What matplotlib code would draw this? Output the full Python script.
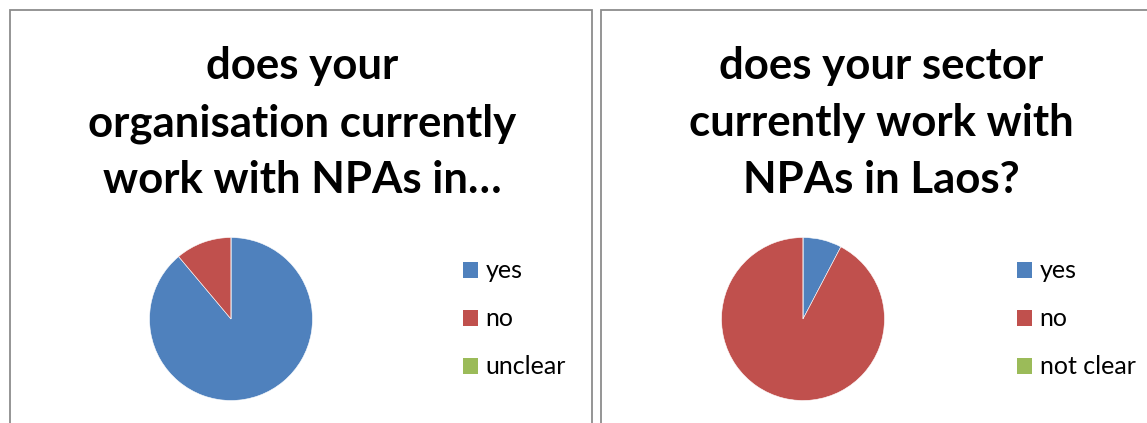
# -*- coding: utf-8 -*-
"""
Two survey pie charts: NPAs in Laos
"""
import matplotlib
matplotlib.use('Agg')
import matplotlib.pyplot as plt
from matplotlib.patches import Rectangle

###############################################################################
# data:
org_labels = ['yes', 'no', 'unclear']
org_counts = [8, 1, 0]
org_title = ['does your', 'organisation currently', 'work with NPAs in\u2026']

sector_labels = ['yes', 'no', 'not clear']
sector_counts = [1, 12, 0]
sector_title = ['does your sector', 'currently work with', 'NPAs in Laos?']

colors = ['#4F81BD', '#C0504D', '#9BBB59']

###############################################################################
# setup:
W, H = 1147, 423
dpi = 100
plt.rcParams['font.family'] = ['Lato', 'DejaVu Sans']

fig = plt.figure(figsize=(W / dpi, H / dpi), dpi=dpi)
fig.patch.set_facecolor('white')


def fx(px):
    return px / W


def fy(py):
    return 1 - py / H


# panel borders (pixel coords from top-left)
panels = [(10, 10, 592, 440), (601, 10, 1165, 440)]
for x0, y0, x1, y1 in panels:
    fig.add_artist(Rectangle((fx(x0), fy(y1)), fx(x1) - fx(x0), fy(y0) - fy(y1),
                             transform=fig.transFigure, fill=False,
                             edgecolor='#8c8c8c', linewidth=1.3))

title_cx = [302, 881]
title_baselines = [79, 136, 193]
pie_centers = [(231, 319), (803, 319)]
pie_r = 81.5
legend_x = [463, 1017]

for i, (labels, counts, title) in enumerate([(org_labels, org_counts, org_title),
                                              (sector_labels, sector_counts, sector_title)]):
    # title
    for line, yb in zip(title, title_baselines):
        fig.text(fx(title_cx[i]), fy(yb), line, ha='center', va='baseline',
                 fontsize=31.5, fontweight='bold', color='black')

    # pie
    cx, cy = pie_centers[i]
    ax = fig.add_axes([fx(cx - pie_r), fy(cy + pie_r), 2 * pie_r / W, 2 * pie_r / H])
    wedges, _ = ax.pie(counts, colors=colors, startangle=90, counterclock=False,
                       wedgeprops=dict(edgecolor='white', linewidth=0.4))
    ax.set_xlim(-1, 1)
    ax.set_ylim(-1, 1)
    ax.set_aspect('equal')

    # legend
    leg = ax.legend(wedges, labels, loc='center left', frameon=False,
                    bbox_to_anchor=(fx(legend_x[i]), fy(319)),
                    bbox_transform=fig.transFigure,
                    fontsize=18, handlelength=0.6, handleheight=0.6,
                    handletextpad=0.3, labelspacing=1.0, borderaxespad=0.0,
                    borderpad=0.0)
    for h in leg.legend_handles:
        h.set_edgecolor('none')

fig.savefig('out.png', dpi=dpi)
